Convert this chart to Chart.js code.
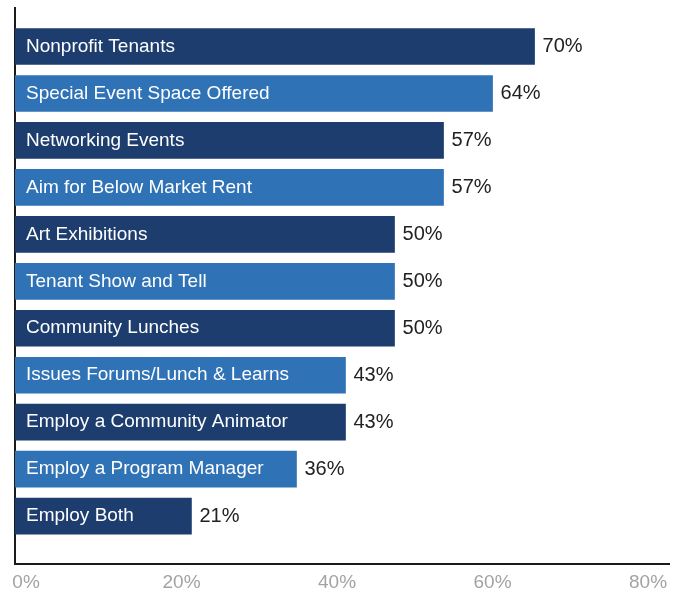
<!DOCTYPE html>
<html>
<head>
<meta charset="utf-8">
<script src="https://cdn.jsdelivr.net/npm/chart.js@4/dist/chart.umd.min.js"></script>
<style>
  html, body { margin: 0; padding: 0; background: #fff; }
  #wrap { width: 687px; height: 596px; }
</style>
</head>
<body>
<div id="wrap"><canvas id="myChart" width="687" height="596"></canvas></div>
<script>
// Amenities / practices offered (share of centres)

const categories = [
    'Nonprofit Tenants',
    'Special Event Space Offered',
    'Networking Events',
    'Aim for Below Market Rent',
    'Art Exhibitions',
    'Tenant Show and Tell',
    'Community Lunches',
    'Issues Forums/Lunch & Learns',
    'Employ a Community Animator',
    'Employ a Program Manager',
    'Employ Both'
];

const shares = [70, 64, 57, 57, 50, 50, 50, 43, 43, 36, 21];

const tickValues = [0, 20, 40, 60, 80];

// bars alternate between navy and mid blue
const darkBlue = '#1c3d6e';
const midBlue = '#2f72b6';

const barFont = { family: "'Liberation Sans', Arial, sans-serif", size: 19 };

// bar scale: bars start slightly left of the 0 mark
const barMin = -4.2;
const barMax = 89.2;

const barLabels = {
    id: 'barLabels',
    afterDatasetsDraw(chart) {
        const ctx = chart.ctx;
        const meta = chart.getDatasetMeta(0);
        ctx.save();
        ctx.textBaseline = 'middle';
        meta.data.forEach((bar, i) => {
            ctx.font = `${barFont.size}px ${barFont.family}`;
            ctx.fillStyle = '#ffffff';
            ctx.textAlign = 'left';
            ctx.fillText(categories[i], bar.base + 11, bar.y);

            ctx.font = `20px ${barFont.family}`;
            ctx.fillStyle = '#222222';
            ctx.fillText(shares[i] + '%', bar.x + 8, bar.y);
        });
        ctx.restore();
    }
};

const config = {
    type: 'bar',
    data: {
        datasets: [{
            data: shares.map((v, i) => ({ x: v, y: i })),
            base: barMin,
            backgroundColor: shares.map((_, i) => i % 2 ? midBlue : darkBlue),
            borderWidth: 0,
            barThickness: 36
        }]
    },
    options: {
        indexAxis: 'y',
        responsive: false,
        animation: false,
        layout: { padding: { left: 15, right: 18, top: 8, bottom: 0 } },
        plugins: {
            legend: { display: false },
            tooltip: { enabled: false }
        },
        scales: {
            x: {
                type: 'linear',
                min: barMin,
                max: barMax,
                display: false
            },
            // axis carrying the percent labels
            x2: {
                type: 'linear',
                position: 'bottom',
                min: -1.42,
                max: 82.7,
                afterBuildTicks: (scale) => {
                    scale.ticks = tickValues.map(v => ({ value: v }));
                },
                afterFit: (scale) => { scale.height = 32; },
                grid: { display: false, drawTicks: false },
                border: { display: true, color: '#1a1a1a', width: 2 },
                ticks: {
                    padding: 7,
                    color: '#a3a3a3',
                    font: { family: "'Liberation Sans', Arial, sans-serif", size: 19 },
                    callback: (v) => v + '%'
                }
            },
            y: {
                type: 'linear',
                reverse: true,
                offset: false,
                min: -0.82,
                max: 11.02,
                grid: { display: false, drawTicks: false },
                border: { display: true, color: '#1a1a1a', width: 2 },
                ticks: { display: false }
            }
        }
    },
    plugins: [barLabels]
};

const myChart = new Chart(document.getElementById('myChart'), config);
</script>
</body>
</html>
